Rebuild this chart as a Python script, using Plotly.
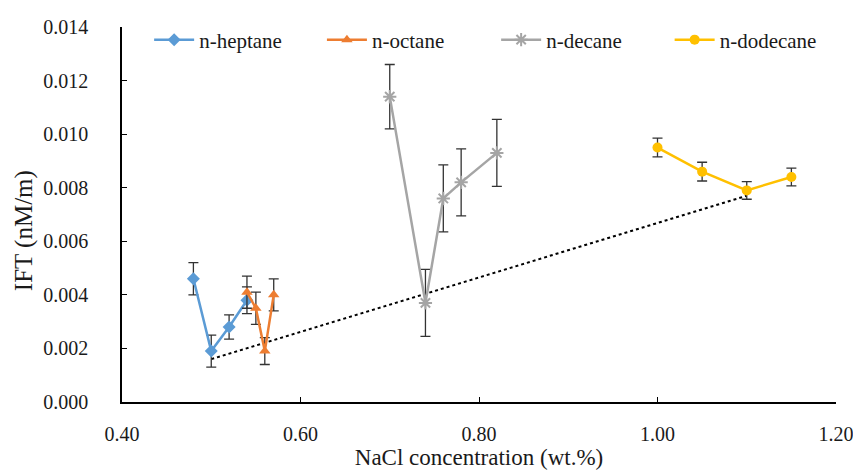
import plotly.graph_objects as go

# ---- data ----
hep_x = [0.48, 0.50, 0.52, 0.54]
hep_y = [0.0046, 0.0019, 0.0028, 0.0038]
hep_err = [0.0006, 0.0006, 0.00045, 0.0005]

oct_x = [0.54, 0.55, 0.56, 0.57]
oct_y = [0.0041, 0.0035, 0.0019, 0.0040]
oct_err = [0.0006, 0.0006, 0.0005, 0.0006]

dec_x = [0.70, 0.74, 0.76, 0.78, 0.82]
dec_y = [0.0114, 0.0037, 0.0076, 0.0082, 0.0093]
dec_err = [0.0012, 0.00125, 0.00125, 0.00125, 0.00125]

dod_x = [1.00, 1.05, 1.10, 1.15]
dod_y = [0.0095, 0.0086, 0.0079, 0.0084]
dod_err = [0.00035, 0.00035, 0.00033, 0.00033]

trend_x = [0.50, 1.10]
trend_y = [0.0016, 0.0077]

names = ["n-heptane", "n-octane", "n-decane", "n-dodecane"]
colors = ["#5B9BD5", "#ED7D31", "#A5A5A5", "#FFC000"]
symbols = ["diamond", "triangle-up", "asterisk-open", "circle"]

FONT = "Liberation Serif, Times New Roman, serif"
TXT = "#1a1a1a"

fig = go.Figure()

fig.add_trace(go.Scatter(x=trend_x, y=trend_y, mode="lines",
                         line=dict(color="black", width=2, dash="dot"),
                         showlegend=False, hoverinfo="skip"))

legend_ids = ["legend", "legend2", "legend3", "legend4"]
series = [(hep_x, hep_y, hep_err), (oct_x, oct_y, oct_err),
          (dec_x, dec_y, dec_err), (dod_x, dod_y, dod_err)]
for (xs, ys, es), nm, col, sym, lg in zip(series, names, colors, symbols, legend_ids):
    fig.add_trace(go.Scatter(
        x=xs, y=ys, name=nm, mode="lines+markers", legend=lg,
        line=dict(color=col, width=2.5),
        marker=dict(symbol=sym, size=10 if sym != "asterisk-open" else 11,
                    color=col, line=dict(color=col, width=2 if sym == "asterisk-open" else 0)),
        error_y=dict(type="data", array=es, visible=True, color="#333333",
                     thickness=1.3, width=5),
    ))

leg_common = dict(orientation="h", xanchor="left", y=1.02, yanchor="top",
                  bgcolor="rgba(255,255,255,0)", font=dict(size=21, family=FONT, color=TXT),
                  itemwidth=40)
leg_x = [0.038, 0.280, 0.524, 0.767]

fig.update_layout(
    width=861, height=476,
    margin=dict(l=114, r=33, t=17, b=82),
    paper_bgcolor="white", plot_bgcolor="white",
    font=dict(family=FONT, size=20, color=TXT),
    showlegend=True,
    legend=dict(x=leg_x[0], **leg_common),
    legend2=dict(x=leg_x[1], **leg_common),
    legend3=dict(x=leg_x[2], **leg_common),
    legend4=dict(x=leg_x[3], **leg_common),
    xaxis=dict(range=[0.40, 1.20], dtick=0.2, tick0=0.4, tickformat=".2f",
               showgrid=False, zeroline=False, showline=True, linecolor="black",
               linewidth=1.5, ticks="inside", ticklen=5, tickcolor="black",
               ticklabelstandoff=13, automargin=False,
               title=dict(text="NaCl concentration (wt.%)", font=dict(size=23, family=FONT, color=TXT), standoff=4),
               tickfont=dict(size=20, family=FONT, color=TXT)),
    yaxis=dict(range=[0, 0.014], dtick=0.002, tickformat=".3f",
               showgrid=False, zeroline=False, showline=True, linecolor="black",
               linewidth=1.5, ticks="inside", ticklen=5, tickcolor="black",
               ticklabelstandoff=28, automargin=False,
               tickfont=dict(size=20, family=FONT, color=TXT)),
    annotations=[dict(text="IFT (nM/m)", textangle=-90, xref="paper", yref="paper",
                      x=-0.137, y=0.456, xanchor="center", yanchor="middle",
                      showarrow=False, font=dict(size=25, family=FONT, color=TXT))],
)

fig.write_html("out.html")
